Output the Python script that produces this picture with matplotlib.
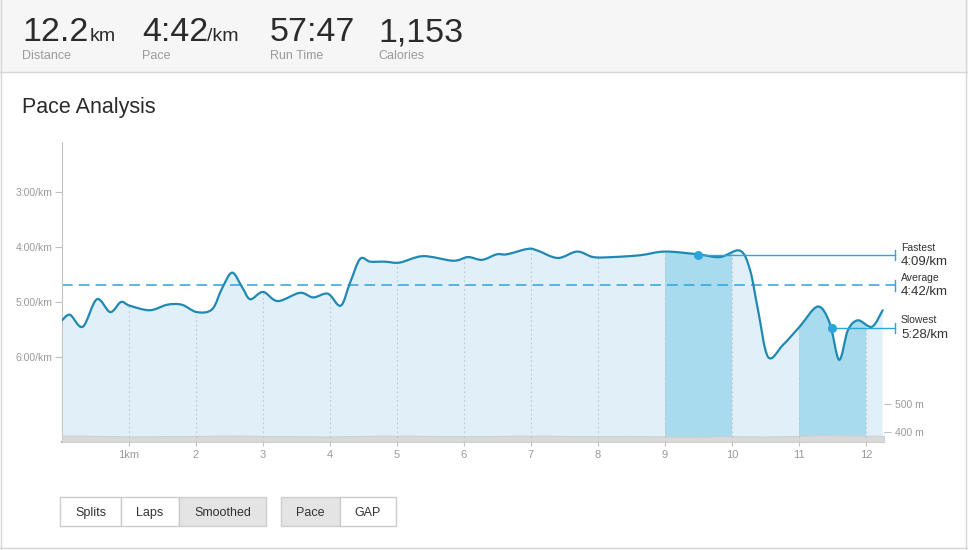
import numpy as np
import matplotlib
matplotlib.use("Agg")
from matplotlib import pyplot as plt
from matplotlib.path import Path
from matplotlib.patches import PathPatch, Rectangle
from matplotlib.lines import Line2D
from matplotlib.ticker import FixedLocator, FuncFormatter

plt.rcParams["font.family"] = ["Liberation Sans", "DejaVu Sans"]

W, H = 968, 550

# header stats
stat_values = ["12.2", "4:42", "57:47", "1,153"]
stat_units = ["km", "/km", "", ""]
stat_labels = ["Distance", "Pace", "Run Time", "Calories"]

# smoothed pace: distance (km) and pace (seconds per km)
distance_km = [0.00, 0.12, 0.31, 0.52, 0.72, 0.88, 1.01, 1.31, 1.57, 1.79,
               2.01, 2.24, 2.39, 2.54, 2.69, 2.81, 3.00, 3.22, 3.55, 3.75,
               3.97, 4.16, 4.30, 4.45, 4.60, 4.82, 5.04, 5.39, 5.84, 6.06,
               6.27, 6.49, 6.64, 6.96, 7.10, 7.40, 7.69, 7.93, 8.22, 8.63,
               9.00, 9.49, 9.82, 10.12, 10.27, 10.39, 10.54, 10.76, 11.01, 11.28,
               11.46, 11.60, 11.73, 11.88, 12.09, 12.25]
pace_sec = [320, 314, 327, 297, 311, 300, 304, 309, 303, 303,
            311, 308, 285, 268, 284, 297, 289, 299, 290, 295,
            291, 304, 279, 253, 256, 256, 257, 250, 255, 251,
            254, 248, 248, 242, 244, 252, 245, 251, 251, 249,
            245, 248, 251, 244, 265, 309, 360, 347, 327, 305,
            323, 363, 331, 320, 327, 309]

avg_pace = 282
fastest_km, fastest_pace = 9.49, 249
slowest_km, slowest_pace = 11.5, 328

# elevation profile (m)
elev_km = [0, 0.6, 1, 1.5, 2, 2.6, 3, 3.5, 4, 4.5, 5, 5.5, 6, 6.5, 7, 7.5,
           8, 8.5, 9, 9.5, 10, 10.5, 11, 11.3, 11.7, 12, 12.27]
elev_m = [387, 386, 384, 385, 386, 387, 386, 385, 384, 386, 387, 386, 385, 386,
          387, 386, 385, 386, 384, 383, 385, 384, 386, 389, 388, 387, 386]

highlight_laps = [(9, 10), (11, 12)]
km_ticks = list(range(1, 13))
km_labels = ["1km"] + [str(k) for k in km_ticks[1:]]
pace_ticks = [180, 240, 300, 360]
elev_ticks = [400, 500]

buttons_left = ["Splits", "Laps", "Smoothed"]
buttons_right = ["Pace", "GAP"]

LINE = "#1f89b3"
FILL = "#e1f0f8"
BAND = "#a8dbee"
ACCENT = "#2aa6dc"


def fx(x):
    return x / W


def fy(y):
    return 1 - y / H


def smooth_path(xs, ys, close_to=None):
    # Catmull-Rom through the points, as cubic Bezier segments
    p = np.column_stack([xs, ys]).astype(float)
    ext = np.vstack([p[0], p, p[-1]])
    verts = [p[0]]
    codes = [Path.MOVETO]
    for i in range(len(p) - 1):
        p0, p1, p2, p3 = ext[i], ext[i + 1], ext[i + 2], ext[i + 3]
        verts += [p1 + (p2 - p0) / 6, p2 - (p3 - p1) / 6, p2]
        codes += [Path.CURVE4] * 3
    if close_to is not None:
        verts += [(p[-1][0], close_to), (p[0][0], close_to), p[0]]
        codes += [Path.LINETO, Path.LINETO, Path.CLOSEPOLY]
    return Path(verts, codes)


fig = plt.figure(figsize=(W / 100, H / 100), dpi=100)

# page frame and header band
fig.patches.append(Rectangle((0, fy(72)), 1, 72 / H, transform=fig.transFigure,
                             facecolor="#f6f6f6", edgecolor="none", zorder=0))
for seg in [((0, W), (72, 72)), ((1, 1), (0, 549)), ((966, 966), (0, 549)), ((0, W), (548, 548))]:
    fig.lines.append(Line2D([fx(v) for v in seg[0]], [fy(v) for v in seg[1]],
                            transform=fig.transFigure, color="#d6d6d6", lw=1))

stat_x = [22, 142, 270, 378]
unit_x = [90, 207, 0, 0]
for sx, ux, val, unit, lab in zip(stat_x, unit_x, stat_values, stat_units, stat_labels):
    fig.text(fx(sx), fy(41), val, fontsize=24.5, color="#2b2b2b", va="baseline")
    if unit:
        fig.text(fx(ux), fy(41), unit, fontsize=14, color="#2b2b2b", va="baseline")
    fig.text(fx(sx), fy(56), lab, fontsize=9, color="#9a9a9a", va="center")

fig.text(fx(22), fy(107), "Pace Analysis", fontsize=15.5, color="#2b2b2b", va="center")

# buttons
def draw_buttons(edges, labels, active):
    for (x0, x1), lab in zip(edges, labels):
        fig.patches.append(Rectangle((fx(x0), fy(526)), fx(x1 - x0), 29 / H,
                                     transform=fig.transFigure,
                                     facecolor="#e4e4e4" if lab == active else "white",
                                     edgecolor="#cccccc", lw=1))
        fig.text(fx((x0 + x1) / 2), fy(513), lab, fontsize=9, color="#333333",
                 ha="center", va="center")


draw_buttons([(60, 121), (121, 179), (179, 266)], buttons_left, "Smoothed")
draw_buttons([(281, 340), (340, 396)], buttons_right, "Pace")

# chart
ax = fig.add_axes([fx(62), fy(442), fx(884 - 62), (442 - 142) / H])
ymin, ymax = 125.5, 452.7
ax.set_xlim(0, 12.27)
ax.set_ylim(ymax, ymin)

fill = PathPatch(smooth_path(distance_km, pace_sec, close_to=ymax),
                 facecolor=FILL, edgecolor="none", zorder=1)
ax.add_patch(fill)
for a, b in highlight_laps:
    band = PathPatch(smooth_path(distance_km, pace_sec, close_to=ymax),
                     facecolor=BAND, edgecolor="none", zorder=1.2)
    ax.add_patch(band)
    band.set_clip_path(Rectangle((a, ymin), b - a, ymax - ymin, transform=ax.transData))

grid = ax.vlines(km_ticks, ymin, ymax, colors="#bfc8cc", linestyles=(0, (1.5, 2.5)),
                 lw=0.8, zorder=1.5)
grid.set_clip_path(fill)

end_x = 12.43
ax.plot([0, end_x], [avg_pace, avg_pace], color=ACCENT, lw=1.1, ls=(0, (7, 4)),
        zorder=2, clip_on=False)
ax.add_patch(PathPatch(smooth_path(distance_km, pace_sec), facecolor="none",
                       edgecolor=LINE, lw=1.6, zorder=3, capstyle="round"))

for kx, val in [(fastest_km, fastest_pace), (slowest_km, slowest_pace)]:
    ax.plot([kx, end_x], [val, val], color=ACCENT, lw=1, zorder=3, clip_on=False)
    ax.plot(kx, val, "o", ms=5.5, color=ACCENT, zorder=4, clip_on=False)

notes = [("Fastest", fastest_pace), ("Average", avg_pace), ("Slowest", slowest_pace)]
for name, val in notes:
    ax.plot([end_x, end_x], [val - 5.5, val + 5.5], color=ACCENT, lw=1, clip_on=False)
    ax.annotate(name, xy=(end_x, val), xytext=(4.5, 5.5), textcoords="offset points",
                fontsize=7.5, color="#333333", va="center", annotation_clip=False)
    ax.annotate(f"{val // 60}:{val % 60:02d}/km", xy=(end_x, val), xytext=(4.5, -5),
                textcoords="offset points", fontsize=9.5, color="#333333", va="center",
                annotation_clip=False)

ax.yaxis.set_major_locator(FixedLocator(pace_ticks))
ax.yaxis.set_major_formatter(FuncFormatter(lambda v, _: f"{int(v) // 60}:{int(v) % 60:02d}/km"))
ax.set_xticks(km_ticks)
ax.set_xticklabels(km_labels)
ax.tick_params(axis="y", length=5, color="#c0c0c0", labelcolor="#9a9a9a", labelsize=7.5, pad=2)
ax.tick_params(axis="x", length=3, color="#c0c0c0", labelcolor="#9a9a9a", labelsize=8, pad=3)
for s in ["top", "right"]:
    ax.spines[s].set_visible(False)
ax.spines["left"].set_color("#c4c4c4")
ax.spines["bottom"].set_color("#b0b0b0")
ax.spines["bottom"].set_linewidth(1.5)
ax.patch.set_visible(False)

# elevation on a second scale
ax2 = ax.twinx()
ax2.set_ylim(364.3, 1435.7)
ax2.fill_between(elev_km, elev_m, 364.3, facecolor="#d9d9d9", edgecolor="#cfcfcf", lw=0.8)
ax2.vlines(km_ticks, 364.3, elev_m[0], colors="#c4c4c4", linestyles=(0, (1.5, 2.5)), lw=0.8)
ax2.set_yticks(elev_ticks)
ax2.set_yticklabels([f"{e} m" for e in elev_ticks])
ax2.tick_params(axis="y", length=5, color="#c0c0c0", labelcolor="#9a9a9a", labelsize=7.5, pad=3)
for s in ax2.spines.values():
    s.set_visible(False)

fig.savefig("out.png", dpi=100)
